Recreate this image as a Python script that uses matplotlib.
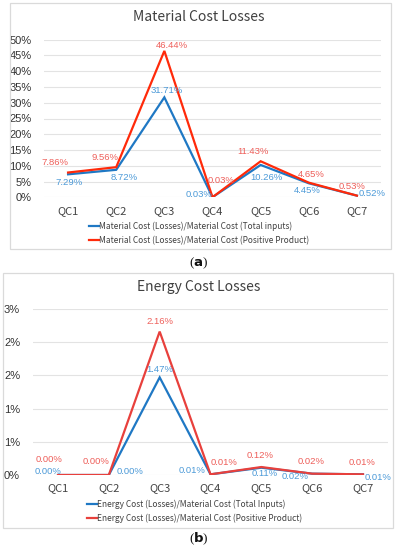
import matplotlib
matplotlib.use("Agg")
import matplotlib.pyplot as plt
from matplotlib.patches import Rectangle

# ---------------- data ----------------
categories = ["QC1", "QC2", "QC3", "QC4", "QC5", "QC6", "QC7"]

mat_total = [7.29, 8.72, 31.71, 0.03, 10.26, 4.45, 0.52]
mat_positive = [7.86, 9.56, 46.44, 0.03, 11.43, 4.65, 0.53]
mat_yticks = [0, 5, 10, 15, 20, 25, 30, 35, 40, 45, 50]
mat_ytick_labels = ["0%", "5%", "10%", "15%", "20%", "25%", "30%", "35%", "40%", "45%", "50%"]

en_total = [0.00, 0.00, 1.47, 0.01, 0.11, 0.02, 0.01]
en_positive = [0.00, 0.00, 2.16, 0.01, 0.12, 0.02, 0.01]
en_total_labels = ["0.00%", "0.00%", "1.47%", "0.01%", "0.11%", "0.02%", "0.01%"]
en_positive_labels = ["0.00%", "0.00%", "2.16%", "0.01%", "0.12%", "0.02%", "0.01%"]
en_yticks = [0, 0.5, 1.0, 1.5, 2.0, 2.5]
en_ytick_labels = ["0%", "1%", "1%", "2%", "2%", "3%"]

# ---------------- style / layout ----------------
W, H = 397, 550
DPI = 100
BLUE = "#1F78C4"
RED_A = "#FF2A0A"
RED_B = "#E8403C"
BLUE_TXT = "#4C9AD8"
RED_TXT = "#EE5F5A"
GRID = "#E3E3E3"
BOX = "#DADADA"
TXT = "#333333"

# label offsets in pixels (dx, dy)
mat_total_off = [(1, -8), (8, -8), (2, 7), (-13, 3), (6, -13), (-2, -7.5), (15, 2.5)]
mat_pos_off = [(-13, 9.7), (-11, 10), (8, 5.4), (9, 17), (-8, 9.4), (2, 8.6), (-5, 9.6)]
en_total_off = [(-10, 3.3), (21, 3), (0, 7.4), (-18, 3.6), (3, -6.3), (-17, -3), (15, -2.7)]
en_pos_off = [(-9, 16), (-13, 13.3), (0, 10), (14, 12.3), (-1, 12), (-1, 12), (-1, 12.3)]

fig = plt.figure(figsize=(W / DPI, H / DPI), dpi=DPI)
fig.patch.set_facecolor("white")


def fx(px):
    return px / W


def fy(py):
    return 1 - py / H


def box(x0, y0, x1, y1):
    fig.patches.append(Rectangle((fx(x0), fy(y1)), fx(x1) - fx(x0), fy(y0) - fy(y1),
                                 transform=fig.transFigure, fill=False,
                                 edgecolor=BOX, linewidth=0.9))


def panel(axpos, title, title_y, s1, s2, l1, l2, names, red, yticks, yticklabels,
          ylim, off1, off2, leg_xy, tag, tag_y):
    x0, y0, x1, y1 = axpos
    ax = fig.add_axes([fx(x0), fy(y1), fx(x1) - fx(x0), fy(y0) - fy(y1)])
    x = list(range(len(categories)))
    ax.set_xlim(-0.5, len(categories) - 0.5)
    ax.set_ylim(*ylim)
    ax.set_yticks(yticks)
    ax.set_yticklabels(yticklabels, fontsize=8, color=TXT, family="Liberation Sans")
    ax.set_xticks(x)
    ax.set_xticklabels(categories, fontsize=8, color="#444444", family="Noto Sans CJK SC")
    ax.tick_params(length=0, axis="both")
    ax.tick_params(axis="y", pad=9)
    ax.tick_params(axis="x", pad=6)
    for s in ax.spines.values():
        s.set_visible(False)
    ax.grid(axis="y", color=GRID, linewidth=0.8)
    ax.set_axisbelow(True)
    ax.set_facecolor("none")
    h1, = ax.plot(x, s1, color=BLUE, lw=1.6, solid_joinstyle="miter", label=names[0])
    h2, = ax.plot(x, s2, color=red, lw=1.6, solid_joinstyle="miter", label=names[1])
    for i in x:
        ax.annotate(l1[i], (i, s1[i]), xytext=off1[i], textcoords="offset pixels",
                    ha="center", va="center", fontsize=6.8, color=BLUE_TXT,
                    family="Liberation Sans")
        ax.annotate(l2[i], (i, s2[i]), xytext=off2[i], textcoords="offset pixels",
                    ha="center", va="center", fontsize=6.8, color=RED_TXT,
                    family="Liberation Sans")
    fig.text(fx(199), fy(title_y), title, ha="center", va="center", fontsize=10,
             color="#404040", family="Noto Sans CJK SC")
    fig.legend(handles=[h1, h2], loc="upper left",
               bbox_to_anchor=(fx(leg_xy[0]), fy(leg_xy[1])),
               bbox_transform=fig.transFigure, frameon=False, fontsize=6,
               handlelength=1.2, handletextpad=0.05, labelspacing=0.55,
               borderpad=0, borderaxespad=0, labelcolor="#404040",
               prop={"family": "Noto Sans CJK SC", "size": 6})
    fig.text(fx(199), fy(tag_y), tag, ha="center", va="center", fontsize=9.5,
             family="Liberation Serif", color="#111111")
    return ax


box(10, 3, 391, 249)
box(3, 273, 393, 528)

mat_total_labels = [f"{v:.2f}%" for v in mat_total]
mat_pos_labels = [f"{v:.2f}%" for v in mat_positive]

panel((44, 39.7, 381, 197.3), "Material Cost Losses", 17,
      mat_total, mat_positive, mat_total_labels, mat_pos_labels,
      ["Material Cost (Losses)/Material Cost (Total inputs)",
       "Material Cost (Losses)/Material Cost (Positive Product)"],
      RED_A, mat_yticks, mat_ytick_labels, (0, 50), mat_total_off, mat_pos_off,
      (89, 222), r"($\mathbf{a}$)", 263)

panel((32.6, 309, 388.4, 475), "Energy Cost Losses", 287,
      en_total, en_positive, en_total_labels, en_positive_labels,
      ["Energy Cost (Losses)/Material Cost (Total Inputs)",
       "Energy Cost (Losses)/Material Cost (Positive Product)"],
      RED_B, en_yticks, en_ytick_labels, (0, 2.5), en_total_off, en_pos_off,
      (87, 500), r"($\mathbf{b}$)", 539)

fig.savefig("out.png", dpi=DPI)
